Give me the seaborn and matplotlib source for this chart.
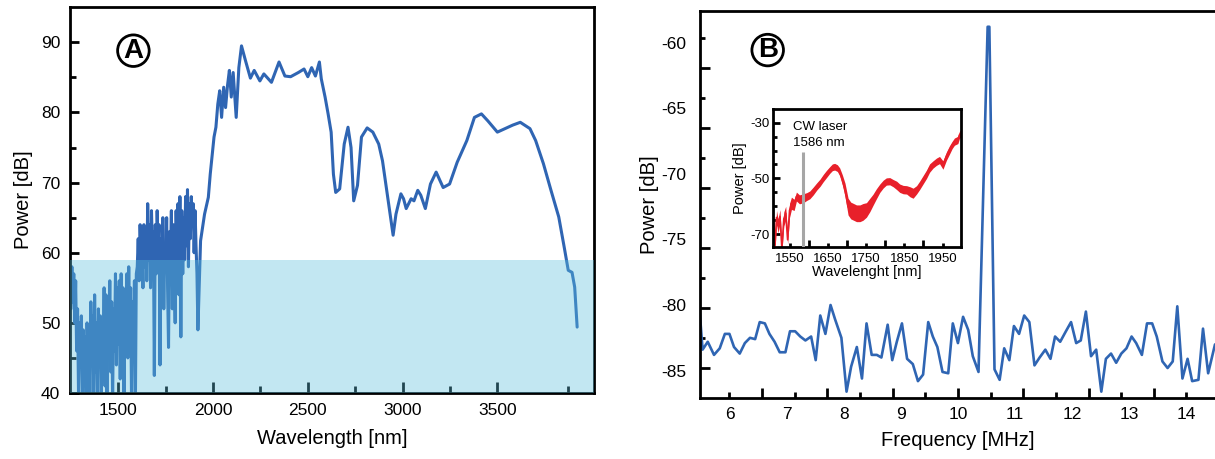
import numpy as np
import pandas as pd
import matplotlib.pyplot as plt
import seaborn as sns
from matplotlib.ticker import FixedLocator, NullFormatter

sns.set_style("ticks")
plt.rcParams['font.family'] = ['Liberation Sans', 'DejaVu Sans']
plt.rcParams['axes.unicode_minus'] = False
for k in ['text.color', 'axes.labelcolor', 'xtick.color', 'ytick.color', 'axes.edgecolor']:
    plt.rcParams[k] = 'black'

# --- panel A: supercontinuum spectrum ---
# noisy short-wavelength part, read every 5 nm
wl_noisy = [1250, 1255, 1260, 1265, 1270, 1275, 1280, 1285, 1290, 1295,
            1300, 1305, 1310, 1315, 1320, 1325, 1330, 1335, 1340, 1345,
            1350, 1355, 1360, 1365, 1370, 1375, 1380, 1385, 1390, 1395,
            1400, 1405, 1410, 1415, 1420, 1425, 1430, 1435, 1440, 1445,
            1450, 1455, 1460, 1465, 1470, 1475, 1480, 1485, 1490, 1495,
            1500, 1505, 1510, 1515, 1520, 1525, 1530, 1535, 1540, 1545,
            1550, 1555, 1560, 1565, 1570, 1575, 1580, 1585, 1590, 1595,
            1600, 1605, 1610, 1615, 1620, 1625, 1630, 1635, 1640, 1645,
            1650, 1655, 1660, 1665, 1670, 1675, 1680, 1685, 1690, 1695,
            1700, 1705, 1710, 1715, 1720, 1725, 1730, 1735, 1740, 1745,
            1750, 1755, 1760, 1765, 1770, 1775, 1780, 1785, 1790, 1795,
            1800, 1805, 1810, 1815, 1820, 1825, 1830, 1835, 1840, 1845,
            1850, 1855, 1860, 1865, 1870, 1875, 1880, 1885, 1890, 1895,
            1900, 1905, 1910, 1915, 1920]
pow_noisy = [52, 58, 53, 57, 50, 56, 46, 52, 40, 50,
             44, 51, 38, 49, 42, 48, 38, 50, 44, 47,
             39, 53, 45, 51, 38, 54, 43, 50, 38, 52,
             44, 51, 39, 49, 45, 55, 41, 54, 38, 52,
             46, 56, 43, 53, 39, 52, 46, 57, 44, 55,
             47, 56, 42, 57, 46, 55, 38, 53, 47, 57,
             45, 58, 48, 55, 38, 53, 46, 56, 38, 57,
             58, 62, 56, 64, 59, 61, 55, 64, 58, 63,
             56, 67, 59, 64, 55, 66, 60, 63, 42.5, 64,
             57, 66, 60, 64, 44, 62, 56, 65, 52, 61,
             58, 65, 55, 46.5, 63, 59, 66, 52, 64, 57,
             50, 66, 58, 67, 54, 68, 48, 66, 57, 65,
             59, 68, 61, 69, 58, 67, 62, 68, 64, 67,
             60, 66, 61, 57, 49]
# rise and long-wavelength part
wl_smooth = [1934, 1955, 1975, 1985, 2005, 2015, 2025, 2035, 2045, 2056, 2066, 2076, 2086,
             2096, 2106, 2122, 2136, 2150, 2170, 2197, 2217, 2247, 2268, 2308, 2348, 2379, 2409,
             2450, 2480, 2500, 2520, 2540, 2561, 2571, 2591, 2607, 2623, 2635, 2647, 2668, 2692,
             2712, 2728, 2742, 2762, 2783, 2813, 2843, 2874, 2894, 2914, 2934, 2950, 2965, 2991,
             3005, 3019, 3045, 3060, 3080, 3096, 3120, 3147, 3177, 3214, 3248, 3288, 3339, 3379,
             3416, 3450, 3500, 3540, 3581, 3621, 3672, 3702, 3743, 3783, 3824, 3854, 3874, 3894,
             3908, 3921]
pow_smooth = [61.7, 65.5, 67.9, 71.2, 76.5, 77.9, 81.2, 83.1, 79.3, 83.6, 80.7, 83.8, 86.0,
              82.2, 85.7, 79.3, 86.4, 89.5, 87.5, 84.9, 86.0, 84.5, 85.5, 84.3, 87.2, 85.2, 85.1,
              85.7, 86.2, 85.1, 86.4, 85.2, 87.2, 84.8, 82.2, 79.8, 77.2, 71.2, 68.6, 69.1, 75.5,
              77.9, 75.0, 67.4, 69.6, 76.5, 77.8, 77.2, 75.5, 73.1, 69.3, 65.5, 62.5, 65.5, 68.4,
              67.7, 66.3, 67.7, 67.4, 68.9, 68.2, 66.3, 69.8, 71.5, 69.3, 69.8, 72.9, 76.0, 79.3,
              79.8, 78.8, 77.2, 77.7, 78.2, 78.6, 77.7, 76.0, 72.7, 68.9, 65.1, 60.6, 57.5, 57.2,
              55.1, 49.4]
shade_top = 59

# --- panel B: RF spectrum ---
freq_b = [5.47, 5.53, 5.62, 5.73, 5.83, 5.92, 6.00, 6.08, 6.18, 6.27, 6.36, 6.45, 6.53, 6.62,
          6.70, 6.79, 6.88, 6.98, 7.06, 7.15, 7.24, 7.33, 7.43, 7.51, 7.59, 7.68, 7.77, 7.85,
          7.96, 8.05, 8.13, 8.23, 8.32, 8.40, 8.49, 8.58, 8.66, 8.77, 8.85, 8.93, 9.02, 9.11,
          9.21, 9.30, 9.39, 9.48, 9.56, 9.64, 9.73, 9.83, 9.91, 10.00, 10.09, 10.18, 10.26, 10.36,
          10.52, 10.55, 10.64, 10.73, 10.81, 10.90, 10.98, 11.07, 11.16, 11.25, 11.34, 11.43, 11.53,
          11.62, 11.70, 11.79, 11.89, 11.98, 12.07, 12.15, 12.24, 12.33, 12.42, 12.51, 12.59, 12.68,
          12.77, 12.86, 12.95, 13.04, 13.12, 13.22, 13.31, 13.40, 13.48, 13.58, 13.67, 13.76, 13.84,
          13.93, 14.02, 14.10, 14.21, 14.29, 14.38, 14.50]
pow_b = [-80.0, -83.4, -82.8, -83.8, -83.3, -82.2, -82.2, -83.2, -83.7, -82.9, -82.5, -82.6, -81.3, -81.4,
         -82.2, -82.8, -83.6, -83.6, -82.0, -82.0, -82.4, -82.7, -82.4, -84.2, -80.8, -82.2, -80.0, -81.1,
         -82.5, -86.6, -84.7, -83.2, -85.6, -81.4, -83.8, -83.8, -84.0, -81.5, -84.2, -82.8, -81.4, -84.1,
         -84.5, -85.8, -85.3, -81.3, -82.4, -83.2, -85.1, -85.2, -81.4, -82.9, -80.9, -81.9, -83.9, -85.1,
         -58.8, -58.8, -84.9, -85.7, -83.3, -84.2, -81.6, -82.2, -80.8, -81.3, -84.6, -84.0, -83.4,
         -84.1, -82.4, -82.8, -82.0, -81.3, -82.9, -82.7, -80.5, -83.9, -83.4, -86.6, -84.1, -83.7,
         -84.4, -83.7, -83.3, -82.4, -82.9, -83.8, -81.4, -81.4, -82.4, -84.3, -84.8, -84.3, -80.1,
         -85.6, -84.1, -85.8, -85.7, -81.8, -85.2, -83.0]

# --- inset: optical spectrum ---
wl_i = [1508, 1512, 1516, 1520, 1525, 1530, 1535, 1540, 1545, 1550, 1555, 1562, 1568, 1576, 1586,
        1595, 1603, 1612, 1621, 1630, 1638, 1646, 1655, 1662, 1668, 1675, 1681, 1688, 1695, 1703,
        1710, 1716, 1725, 1734, 1742, 1751, 1760, 1768, 1777, 1786, 1795, 1803, 1812, 1821, 1830,
        1838, 1847, 1856, 1865, 1873, 1882, 1890, 1899, 1908, 1916, 1925, 1934, 1942, 1951, 1960,
        1968, 1975, 1981, 1990, 1994, 1998]
pow_i = [-65.5, -74.0, -64.0, -67.0, -63.7, -75.0, -64.5, -62.5, -72.0, -61.5, -58.9, -59.5, -56.5, -57.5, -57.1,
         -56.5, -55.9, -54.5, -52.9, -51.5, -49.9, -48.5, -47.0, -46.0, -45.8, -46.3, -47.6, -50.5, -54.1, -60.1,
         -61.5, -61.9, -62.5, -62.5, -62.0, -61.3, -59.5, -57.7, -55.5, -53.5, -52.0, -51.1, -51.0, -51.7, -52.5,
         -53.5, -54.0, -54.1, -54.8, -55.3, -54.1, -52.5, -50.5, -48.5, -46.3, -45.0, -44.0, -43.4, -45.2, -42.0,
         -39.8, -38.0, -36.8, -36.2, -34.4, -33.8]
spread_i = [2.5, 1.5, 2.5, 2.5, 2.5, 1.5, 2.5, 2.5, 1.5, 2.5, 2.2, 2.0, 1.6, 1.6, 1.6,
            1.4, 1.4, 1.4, 1.3, 1.3, 1.3, 1.3, 1.2, 1.2, 1.2, 1.2, 1.4, 1.8, 2.4, 3.0,
            3.0, 3.0, 3.0, 3.0, 3.0, 2.6, 2.4, 2.0, 1.8, 1.5, 1.4, 1.3, 1.3, 1.3, 1.5,
            1.5, 1.5, 1.5, 1.8, 1.8, 1.5, 1.5, 1.5, 1.5, 1.5, 1.3, 1.3, 1.3, 1.5, 1.5,
            1.5, 1.3, 1.3, 1.3, 1.3, 1.3]
cw_nm = 1586
cw_top = -40.6

blue = '#2f65b3'
red = '#e8202a'

fig = plt.figure(figsize=(12.15, 4.59), dpi=100)

# ---------- panel A ----------
axA = fig.add_axes([0.0576, 0.1438, 0.4313, 0.8403])
sns.lineplot(x=wl_noisy + wl_smooth, y=pow_noisy + pow_smooth, ax=axA, color=blue, lw=2.2,
             sort=False, estimator=None)
axA.axhspan(40, shade_top, color='#5bc0de', alpha=0.37, lw=0, zorder=3)
axA.set_xlim(1245, 4010)
axA.set_ylim(40, 95)
axA.set_xticks([1500, 2000, 2500, 3000, 3500])
axA.xaxis.set_minor_locator(FixedLocator([1750, 2250, 2750, 3250, 3875]))
axA.set_yticks([40, 50, 60, 70, 80, 90])
axA.yaxis.set_minor_locator(FixedLocator([45, 55, 65, 75, 85]))
axA.tick_params(axis='x', which='major', direction='in', length=8, width=2, labelsize=12.5, pad=7)
axA.tick_params(axis='x', which='minor', direction='in', length=5, width=2)
axA.tick_params(axis='y', which='major', direction='in', length=6.5, width=2, labelsize=12.5, pad=7)
axA.tick_params(axis='y', which='minor', direction='in', length=4.3, width=2)
axA.set_xlabel('Wavelength [nm]', fontsize=14.5, labelpad=8)
axA.set_ylabel('Power [dB]', fontsize=14.5, labelpad=6)
for s in axA.spines.values():
    s.set_linewidth(2)
axA.text(0.121, 0.8875, 'A', transform=axA.transAxes, fontsize=20, fontweight='bold',
         ha='center', va='center',
         bbox=dict(boxstyle='circle,pad=0.1', fc='white', ec='black', lw=2))

# ---------- panel B ----------
axB = fig.add_axes([0.5761, 0.1336, 0.4239, 0.8424])
sns.lineplot(x=freq_b, y=pow_b, ax=axB, color=blue, lw=1.9, sort=False, estimator=None)
axB.set_xlim(5.484, 14.5)
axB.set_ylim(-87.06, -57.6)
axB.spines['right'].set_visible(False)
for s in axB.spines.values():
    s.set_linewidth(2)

fticks = [6 + 4 * k / 7 for k in range(15)]
axB.set_xticks(fticks[1::2])
axB.xaxis.set_minor_locator(FixedLocator(fticks[0::2]))
axB.xaxis.set_major_formatter(NullFormatter())
axB.tick_params(axis='x', which='major', direction='in', length=7, width=2)
axB.tick_params(axis='x', which='minor', direction='in', length=4.3, width=2)

pticks = [-59.66 - 2.282 * k for k in range(12)]
axB.set_yticks(pticks[1::2])
axB.yaxis.set_minor_locator(FixedLocator(pticks[0::2]))
axB.yaxis.set_major_formatter(NullFormatter())
axB.tick_params(axis='y', which='major', direction='in', length=7, width=2)
axB.tick_params(axis='y', which='minor', direction='in', length=3.6, width=2)

secx = axB.secondary_xaxis('bottom')
secx.set_xticks(range(6, 15))
secx.tick_params(length=0, labelsize=12.5, pad=7)
secx.spines['bottom'].set_visible(False)
secx.set_xlabel('Frequency [MHz]', fontsize=14.5, labelpad=6)

secy = axB.secondary_yaxis('left')
secy.set_yticks([-85, -80, -75, -70, -65, -60])
secy.tick_params(length=0, labelsize=12.5, pad=10)
secy.spines['left'].set_visible(False)
secy.set_ylabel('Power [dB]', fontsize=14.5, labelpad=1.5)

axB.text(0.1315, 0.899, 'B', transform=axB.transAxes, fontsize=20, fontweight='bold',
         ha='center', va='center',
         bbox=dict(boxstyle='circle,pad=0.1', fc='white', ec='black', lw=2))

# ---------- inset ----------
axI = fig.add_axes([0.6366, 0.4612, 0.1543, 0.3013])
lo = np.array(pow_i) - np.array(spread_i)
hi = np.array(pow_i) + np.array(spread_i)
axI.fill_between(wl_i, lo, hi, color=red, lw=0)
sns.lineplot(x=wl_i, y=pow_i, ax=axI, color=red, lw=1.2, sort=False, estimator=None)
axI.vlines(cw_nm, -76, cw_top, color='#a6a6a6', lw=2.2, zorder=4)
axI.text(1560, -31.4, 'CW laser', fontsize=9.5, va='center', ha='left')
axI.text(1560, -37.4, '1586 nm', fontsize=9.5, va='center', ha='left')
axI.set_xlim(1508, 1998)
axI.set_ylim(-74.7, -25.1)
axI.set_xticks([1550, 1650, 1750, 1850, 1950])
axI.xaxis.set_minor_locator(FixedLocator([1600, 1700, 1800, 1900]))
axI.set_yticks([-70, -50, -30])
axI.yaxis.set_minor_locator(FixedLocator([-65, -60, -55, -45, -40, -35]))
axI.tick_params(axis='x', which='major', direction='in', length=3, width=2, labelsize=9.5, pad=4)
axI.tick_params(axis='x', which='minor', direction='in', length=5, width=2)
axI.tick_params(axis='y', which='major', direction='in', length=5, width=2, labelsize=9.5, pad=3)
axI.tick_params(axis='y', which='minor', direction='in', length=3, width=2)
axI.set_xlabel('Wavelenght [nm]', fontsize=10.5, labelpad=0)
axI.set_ylabel('Power [dB]', fontsize=10.5, labelpad=2)
for s in axI.spines.values():
    s.set_linewidth(2)

fig.savefig('out.png', dpi=100)
